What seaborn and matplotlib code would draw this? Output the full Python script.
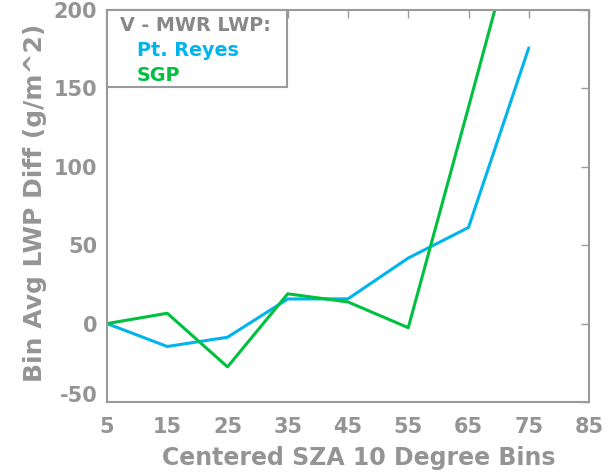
import matplotlib
matplotlib.use("Agg")
import matplotlib.pyplot as plt
import matplotlib.transforms as mtransforms
import seaborn as sns
import pandas as pd
from matplotlib.patches import Rectangle

sza_bins = [5, 15, 25, 35, 45, 55, 65, 75]
pt_reyes = [0, -14.6, -8.7, 15.7, 15.8, 41.8, 61.3, 175.8]
sgp = [0, 6.6, -27.6, 19.0, 13.8, -2.6, 138, 280]
series_names = ["Pt. Reyes", "SGP"]
colors = {"Pt. Reyes": "#00B4EE", "SGP": "#00C040"}
legend_title = "V - MWR LWP:"
x_ticks = [5, 15, 25, 35, 45, 55, 65, 75, 85]
y_ticks = [-50, 0, 50, 100, 150, 200]

df = pd.concat([
    pd.DataFrame({"sza": sza_bins, "diff": pt_reyes, "site": "Pt. Reyes"}),
    pd.DataFrame({"sza": sza_bins, "diff": sgp, "site": "SGP"}),
])

sns.set_style("white")
plt.rcParams['font.family'] = ['DejaVu Sans']
plt.rcParams['font.weight'] = 'bold'
plt.rcParams['axes.unicode_minus'] = False
gray = "#949494"
spine_gray = "#9A9A9A"

fig = plt.figure(figsize=(6.13, 4.73), dpi=100)
ax = fig.add_axes([107 / 613, 71 / 473, 482 / 613, 392 / 473])
sns.lineplot(data=df, x="sza", y="diff", hue="site", palette=colors,
             hue_order=series_names, linewidth=2.2, ax=ax, legend=False,
             sort=False)
ax.set_xlim(5, 85)
ax.set_ylim(-50, 200)
ax.set_xticks(x_ticks)
ax.set_yticks(y_ticks)
ax.tick_params(axis='both', colors=spine_gray, labelsize=15, length=6,
               width=1, direction='in', top=True, right=True,
               labelcolor=gray)
ax.tick_params(axis='x', pad=11)
ax.tick_params(axis='y', pad=7)
for lab in ax.get_xticklabels() + ax.get_yticklabels():
    lab.set_fontweight('bold')
# bottom y tick label nudged up like the original
ylabs = ax.get_yticklabels()
ylabs[0].set_transform(ylabs[0].get_transform() +
                       mtransforms.ScaledTranslation(0, 0.08, fig.dpi_scale_trans))
for s in ax.spines.values():
    s.set_color(spine_gray)
    s.set_linewidth(1.5)
ax.set_xlabel("Centered SZA 10 Degree Bins", color=gray, fontsize=17,
              fontweight='bold')
ax.set_ylabel("Bin Avg LWP Diff (g/m^2)", color=gray, fontsize=18,
              fontweight='bold')
ax.xaxis.set_label_coords(0.523, -0.112)
ax.yaxis.set_label_coords(-0.125, 0.508)

# legend-style text box
W, H = 482.0, 392.0
ax.add_patch(Rectangle((0, 1 - 77 / H), 180 / W, 77 / H, transform=ax.transAxes,
                       facecolor='white', edgecolor=spine_gray, linewidth=1.5,
                       zorder=5, clip_on=False))
ax.text(13 / W, 1 - 21 / H, legend_title, transform=ax.transAxes,
        color="#888888", fontsize=13.8, fontweight='bold', va='baseline',
        ha='left', zorder=6)
for i, n in enumerate(series_names):
    ax.text(30 / W, 1 - (46 + 25 * i) / H, n, transform=ax.transAxes,
            color=colors[n], fontsize=13.8, fontweight='bold', va='baseline',
            ha='left', zorder=6)

fig.savefig("out.png", dpi=100)
